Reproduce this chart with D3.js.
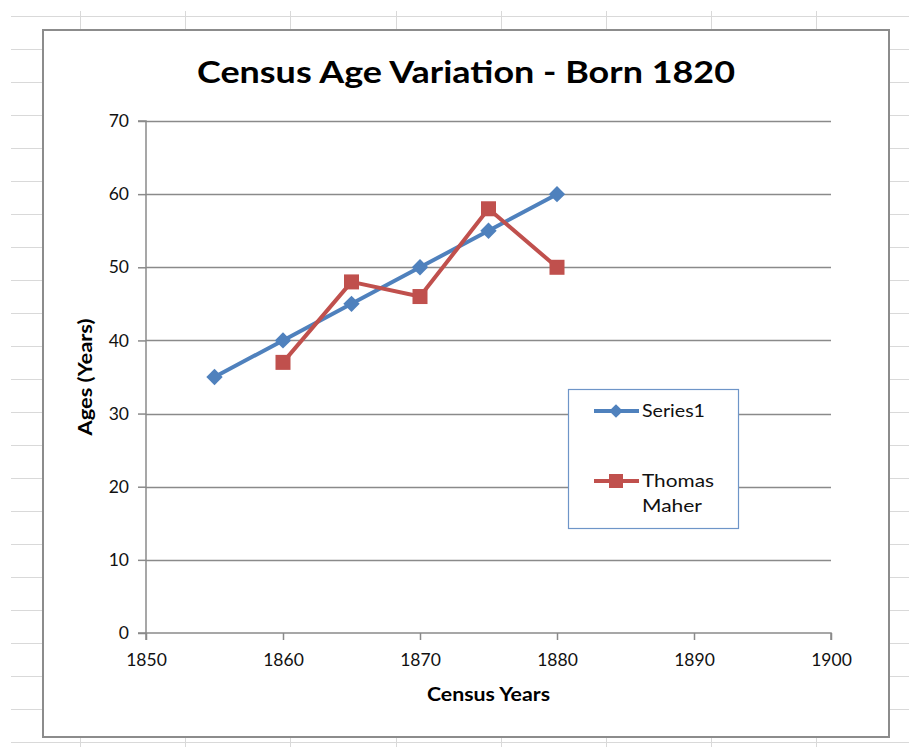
<!DOCTYPE html>
<html>
<head>
<meta charset="utf-8">
<script src="https://cdn.jsdelivr.net/npm/d3@7"></script>
<style>
html,body{margin:0;padding:0;background:#fff;}
svg{display:block;}
</style>
</head>
<body>
<svg id="chart" width="909" height="747"></svg>
<script>
const title = "Census Age Variation - Born 1820";
const xTitle = "Census Years";
const yTitle = "Ages (Years)";
const xTicks = [1850, 1860, 1870, 1880, 1890, 1900];
const yTicks = [0, 10, 20, 30, 40, 50, 60, 70];
const series1Name = "Series1";
const series1Years = [1855, 1860, 1865, 1870, 1875, 1880];
const series1Ages = [35, 40, 45, 50, 55, 60];
const thomasName = ["Thomas", "Maher"];
const thomasYears = [1860, 1865, 1870, 1875, 1880];
const thomasAges = [37, 48, 46, 58, 50];

const svg = d3.select("#chart");
const W = 909, H = 747;
const font = "Lato, 'Open Sans', sans-serif";

// spreadsheet background grid
const bg = svg.append("g");
const gridColor = "#d9d9d9";
const hLines = d3.range(16, H, 33);
const vLines = d3.range(80, W, 105.2);
bg.selectAll("line.h").data(hLines).enter().append("line")
  .attr("x1", 11).attr("x2", W).attr("y1", d => d + 0.5).attr("y2", d => d + 0.5)
  .attr("stroke", gridColor).attr("stroke-width", 1);
bg.selectAll("line.v").data(vLines).enter().append("line")
  .attr("y1", 11).attr("y2", H).attr("x1", d => Math.round(d) + 0.5).attr("x2", d => Math.round(d) + 0.5)
  .attr("stroke", gridColor).attr("stroke-width", 1);

// chart frame
svg.append("rect").attr("x", 43).attr("y", 30).attr("width", 846).attr("height", 707)
  .attr("fill", "#fff").attr("stroke", "#8c8c8c").attr("stroke-width", 2);

// scales
const x = d3.scaleLinear().domain([1850, 1900]).range([146, 831]);
const y = d3.scaleLinear().domain([0, 70]).range([633, 121]);

// title
svg.append("text").attr("x", 466).attr("y", 83).attr("text-anchor", "middle")
  .attr("font-family", font).attr("font-weight", "bold").attr("font-size", 31)
  .attr("fill", "#000").attr("textLength", 538).attr("lengthAdjust", "spacingAndGlyphs")
  .text(title);

// horizontal gridlines
svg.append("g").selectAll("line").data(yTicks.slice(1)).enter().append("line")
  .attr("x1", x(1850)).attr("x2", x(1900))
  .attr("y1", d => Math.round(y(d)) + 0.5).attr("y2", d => Math.round(y(d)) + 0.5)
  .attr("stroke", "#8a8a8a").attr("stroke-width", 1.5);

// axes
const axisColor = "#8a8a8a";
const yAxis = svg.append("g").attr("transform", `translate(${x(1850)},0)`)
  .call(d3.axisLeft(y).tickValues(yTicks).tickSize(8).tickPadding(9).tickFormat(d3.format("d")));
const xAxis = svg.append("g").attr("transform", `translate(0,${y(0)})`)
  .call(d3.axisBottom(x).tickValues(xTicks).tickSize(7).tickPadding(14).tickFormat(d3.format("d")));
[xAxis, yAxis].forEach(a => {
  a.select(".domain").attr("stroke", axisColor).attr("stroke-width", 1.5);
  a.selectAll(".tick line").attr("stroke", axisColor).attr("stroke-width", 1.5);
  a.selectAll(".tick text").attr("font-family", font).attr("font-size", 17.5).attr("fill", "#111");
});
xAxis.select(".domain").attr("d", `M${x(1850)},7V0H${x(1900)}V7`);
yAxis.select(".domain").attr("d", `M-8,${y(70)}H0V${y(0)}H-8`);

// axis titles
svg.append("text").attr("x", (x(1850) + x(1900)) / 2).attr("y", 701).attr("text-anchor", "middle")
  .attr("font-family", font).attr("font-weight", "bold").attr("font-size", 19).attr("fill", "#000")
  .attr("textLength", 123).attr("lengthAdjust", "spacingAndGlyphs")
  .text(xTitle);
svg.append("text").attr("transform", `translate(92,${(y(0) + y(70)) / 2}) rotate(-90)`).attr("text-anchor", "middle")
  .attr("font-family", font).attr("font-weight", "bold").attr("font-size", 19).attr("fill", "#000")
  .attr("textLength", 117).attr("lengthAdjust", "spacingAndGlyphs")
  .text(yTitle);

const blue = "#4f81bd", red = "#c0504d";
const line = d3.line().x(d => x(d[0])).y(d => y(d[1]));

const s1 = series1Years.map((yr, i) => [yr, series1Ages[i]]);
const s2 = thomasYears.map((yr, i) => [yr, thomasAges[i]]);

svg.append("path").datum(s1).attr("d", line).attr("fill", "none")
  .attr("stroke", blue).attr("stroke-width", 4).attr("stroke-linejoin", "round");
svg.append("g").selectAll("path").data(s1).enter().append("path")
  .attr("d", d3.symbol(d3.symbolDiamond2, 170))
  .attr("transform", d => `translate(${x(d[0])},${y(d[1])})`)
  .attr("fill", blue);

svg.append("path").datum(s2).attr("d", line).attr("fill", "none")
  .attr("stroke", red).attr("stroke-width", 4).attr("stroke-linejoin", "round");
svg.append("g").selectAll("rect").data(s2).enter().append("rect")
  .attr("x", d => x(d[0]) - 7.5).attr("y", d => y(d[1]) - 7.5)
  .attr("width", 15).attr("height", 15).attr("fill", red);

// legend
const lg = svg.append("g");
lg.append("rect").attr("x", 568.5).attr("y", 389.5).attr("width", 170).attr("height", 139)
  .attr("fill", "#fff").attr("stroke", "#6e95c8").attr("stroke-width", 1.2);
lg.append("line").attr("x1", 594).attr("x2", 639).attr("y1", 411).attr("y2", 411)
  .attr("stroke", blue).attr("stroke-width", 4);
lg.append("path").attr("d", d3.symbol(d3.symbolDiamond2, 120))
  .attr("transform", "translate(616,411)").attr("fill", blue);
lg.append("text").attr("x", 642).attr("y", 417).attr("font-family", font).attr("font-size", 18)
  .attr("fill", "#111").attr("textLength", 63).attr("lengthAdjust", "spacingAndGlyphs").text(series1Name);
lg.append("line").attr("x1", 594).attr("x2", 639).attr("y1", 481).attr("y2", 481)
  .attr("stroke", red).attr("stroke-width", 4);
lg.append("rect").attr("x", 609).attr("y", 474).attr("width", 14).attr("height", 14).attr("fill", red);
const nameLens = [72, 60];
lg.append("text").attr("font-family", font).attr("font-size", 18).attr("fill", "#111")
  .selectAll("tspan").data(thomasName).enter().append("tspan")
  .attr("x", 642).attr("y", (d, i) => 487 + i * 25)
  .attr("textLength", (d, i) => nameLens[i]).attr("lengthAdjust", "spacingAndGlyphs")
  .text(d => d);
</script>
</body>
</html>
